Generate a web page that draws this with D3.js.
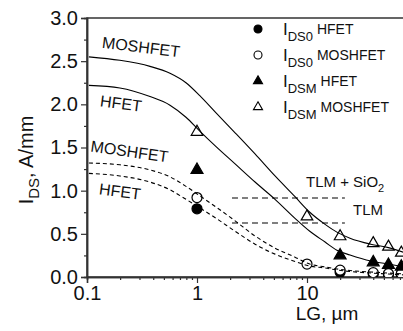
<!DOCTYPE html>
<html><head><meta charset="utf-8">
<script src="https://cdn.jsdelivr.net/npm/d3@7"></script>
<style>body{margin:0;background:#fff}svg{display:block}</style>
</head><body>
<script>
// ---- data ----
const xTickValues = [0.1, 1, 10, 100];
const xTickLabels = ["0.1", "1", "10", ""];
const yTickValues = [0, 0.5, 1.0, 1.5, 2.0, 2.5, 3.0];
const yTickLabels = ["0.0", "0.5", "1.0", "1.5", "2.0", "2.5", "3.0"];

const lgPoints = [1, 10, 20, 40, 55, 72];
const ids0HFET    = [0.79, null, 0.055, 0.035, 0.03, 0.03];
const ids0MOSHFET = [0.92, 0.15, 0.08, 0.05, 0.04, 0.04];
const idsmHFET    = [1.24, null, 0.25, 0.17, 0.14, 0.12];
const idsmMOSHFET = [1.68, 0.70, 0.47, 0.39, 0.35, 0.28];

const curveLG       = [0.104, 0.199, 0.374, 0.568, 0.794, 1.06, 1.49, 2.22, 3.37, 5.12, 7.78, 10.6, 14.6, 18.7, 24.6, 38, 55, 77.6];
const solidMOSHFET  = [2.55, 2.51, 2.44, 2.36, 2.25, 2.10, 1.90, 1.67, 1.425, 1.17, 0.93, 0.75, 0.61, 0.52, 0.45, 0.38, 0.34, 0.28];
const solidHFET     = [2.22, 2.19, 2.09, 1.99, 1.85, 1.69, 1.51, 1.31, 1.10, 0.90, 0.68, 0.53, 0.405, 0.31, 0.255, 0.185, 0.15, 0.115];
const dashedMOSHFET = [1.32, 1.30, 1.24, 1.16, 1.05, 0.94, 0.81, 0.65, 0.475, 0.335, 0.23, 0.15, 0.116, 0.093, 0.075, 0.058, 0.046, 0.035];
const dashedHFET    = [1.20, 1.17, 1.10, 1.01, 0.90, 0.80, 0.68, 0.53, 0.38, 0.265, 0.18, 0.127, 0.104, 0.081, 0.064, 0.046, 0.035, 0.023];

const tlmLevels = [0.915, 0.625];
const tlmRange = [2.08, 22.1];

const W = 403, H = 331;
const svg = d3.select("body").append("svg").attr("width", W).attr("height", H);
const x = d3.scaleLog().domain([0.1, 100]).range([87, 417]);
const y = d3.scaleLinear().domain([0, 3]).range([277, 18]);
const axisColor = "#333";
const F = "Liberation Sans, Arial, sans-serif";

// frame
svg.append("rect").attr("x", x(0.1)).attr("y", y(3)).attr("width", x(100) - x(0.1)).attr("height", y(0) - y(3))
  .attr("fill", "none").attr("stroke", axisColor).attr("stroke-width", 1.5);

// x axis
const xMinor = [];
[0.1, 1, 10].forEach(d => { for (let k = 2; k <= 9; k++) xMinor.push(d * k); });
const gxMinor = svg.append("g").attr("transform", `translate(0,${y(0)})`)
  .call(d3.axisBottom(x).tickValues(xMinor).tickSize(3).tickFormat(""));
const gx = svg.append("g").attr("transform", `translate(0,${y(0)})`)
  .call(d3.axisBottom(x).tickValues(xTickValues).tickSize(6).tickPadding(3)
    .tickFormat((d, i) => xTickLabels[i]));
[gx, gxMinor].forEach(g => {
  g.select(".domain").attr("stroke", axisColor).attr("stroke-width", 1.5);
  g.selectAll("line").attr("stroke", axisColor).attr("stroke-width", 1.2);
  g.selectAll("text").attr("font-family", F).attr("font-size", 20).attr("fill", "#111");
});

// y axis
const yMinor = d3.range(0.25, 3, 0.5);
const gyMinor = svg.append("g").attr("transform", `translate(${x(0.1)},0)`)
  .call(d3.axisLeft(y).tickValues(yMinor).tickSize(3).tickFormat(""));
const gy = svg.append("g").attr("transform", `translate(${x(0.1)},0)`)
  .call(d3.axisLeft(y).tickValues(yTickValues).tickSize(6).tickPadding(3)
    .tickFormat((d, i) => yTickLabels[i]));
[gy, gyMinor].forEach(g => {
  g.select(".domain").attr("stroke", axisColor).attr("stroke-width", 1.5);
  g.selectAll("line").attr("stroke", axisColor).attr("stroke-width", 1.2);
  g.selectAll("text").attr("font-family", F).attr("font-size", 20).attr("fill", "#111");
});

// axis titles
svg.append("text").attr("x", 327).attr("y", 320).attr("text-anchor", "middle")
  .attr("font-family", F).attr("font-size", 19).attr("fill", "#111").text("LG, \u00b5m");
const yt = svg.append("text").attr("transform", "translate(33,160) rotate(-90)").attr("text-anchor", "middle")
  .attr("font-family", F).attr("font-size", 20).attr("fill", "#111");
yt.append("tspan").text("I");
yt.append("tspan").attr("font-size", 15).attr("dy", 6).text("DS");
yt.append("tspan").attr("dy", -6).text(", A/mm");

// plot clip
svg.append("clipPath").attr("id", "clip").append("rect")
  .attr("x", x(0.1)).attr("y", y(3)).attr("width", x(100) - x(0.1)).attr("height", y(0) - y(3));
const plot = svg.append("g").attr("clip-path", "url(#clip)");

// markers (drawn first, curves pass over them)
const tri = d3.symbol().type(d3.symbolTriangle);
function drawSeries(vals, kind, filled) {
  lgPoints.forEach((l, i) => {
    const v = vals[i];
    if (v === null) return;
    if (kind === "circle") {
      plot.append("circle").attr("cx", x(l)).attr("cy", y(v)).attr("r", 5)
        .attr("fill", filled ? "#000" : "#fff").attr("stroke", "#000").attr("stroke-width", 1.2);
    } else {
      plot.append("path").attr("d", tri.size(filled ? 62 : 58)())
        .attr("transform", `translate(${x(l)},${y(v)})`)
        .attr("fill", filled ? "#000" : "#fff").attr("stroke", "#000").attr("stroke-width", 1.2);
    }
  });
}
drawSeries(ids0HFET, "circle", true);
drawSeries(ids0MOSHFET, "circle", false);
drawSeries(idsmHFET, "tri", true);
drawSeries(idsmMOSHFET, "tri", false);

// curves
const line = d3.line().x(d => x(d[0])).y(d => y(d[1])).curve(d3.curveMonotoneX);
const curves = [
  { v: solidMOSHFET, dash: null },
  { v: solidHFET, dash: null },
  { v: dashedMOSHFET, dash: "4,3" },
  { v: dashedHFET, dash: "4,3" }
];
curves.forEach(c => {
  plot.append("path").datum(curveLG.map((l, i) => [l, c.v[i]]))
    .attr("d", line).attr("fill", "none").attr("stroke", "#000").attr("stroke-width", 1.1)
    .attr("stroke-dasharray", c.dash);
});

// TLM horizontal lines
tlmLevels.forEach(v => {
  plot.append("line").attr("x1", x(tlmRange[0])).attr("x2", x(tlmRange[1]))
    .attr("y1", y(v)).attr("y2", y(v)).attr("stroke", "#000").attr("stroke-width", 1.1)
    .attr("stroke-dasharray", "6,4");
});

// curve labels
const labels = [
  { t: "MOSHFET", cx: 141, cy: 47, a: 7 },
  { t: "HFET", cx: 121, cy: 103.5, a: 7.5 },
  { t: "MOSHFET", cx: 129.5, cy: 151.5, a: 8 },
  { t: "HFET", cx: 120, cy: 191.5, a: 7.5 }
];
labels.forEach(l => {
  svg.append("text").attr("transform", `translate(${l.cx},${l.cy}) rotate(${l.a})`)
    .attr("text-anchor", "middle").attr("dominant-baseline", "central")
    .attr("font-family", F).attr("font-size", 16).attr("fill", "#111").text(l.t);
});

// TLM labels
const t1 = svg.append("text").attr("x", 306).attr("y", 187).attr("font-family", F).attr("font-size", 15).attr("fill", "#111");
t1.append("tspan").text("TLM + SiO");
t1.append("tspan").attr("font-size", 11).attr("dy", 5).text("2");
svg.append("text").attr("x", 353).attr("y", 215).attr("font-family", F).attr("font-size", 15).attr("fill", "#111").text("TLM");

// legend
const legendSub = ["DS0", "DS0", "DSM", "DSM"];
const legendName = ["HFET", "MOSHFET", "HFET", "MOSHFET"];
const legendKind = [["circle", true], ["circle", false], ["tri", true], ["tri", false]];
const rowY = [29, 55, 81, 107];
legendKind.forEach((k, i) => {
  const cy = rowY[i];
  if (k[0] === "circle") {
    svg.append("circle").attr("cx", 258).attr("cy", cy).attr("r", 4)
      .attr("fill", k[1] ? "#000" : "none").attr("stroke", "#000").attr("stroke-width", 1.1);
  } else {
    svg.append("path").attr("d", tri.size(36)()).attr("transform", `translate(258,${cy})`)
      .attr("fill", k[1] ? "#000" : "none").attr("stroke", "#000").attr("stroke-width", 1.1);
  }
  const t = svg.append("text").attr("x", 283).attr("y", cy + 6).attr("font-family", F).attr("fill", "#111");
  t.append("tspan").attr("font-size", 17).text("I");
  t.append("tspan").attr("font-size", 13).attr("dy", 6).text(legendSub[i]);
  t.append("tspan").attr("font-size", 14).attr("dy", -7).text(" " + legendName[i]);
});
</script>
</body></html>
